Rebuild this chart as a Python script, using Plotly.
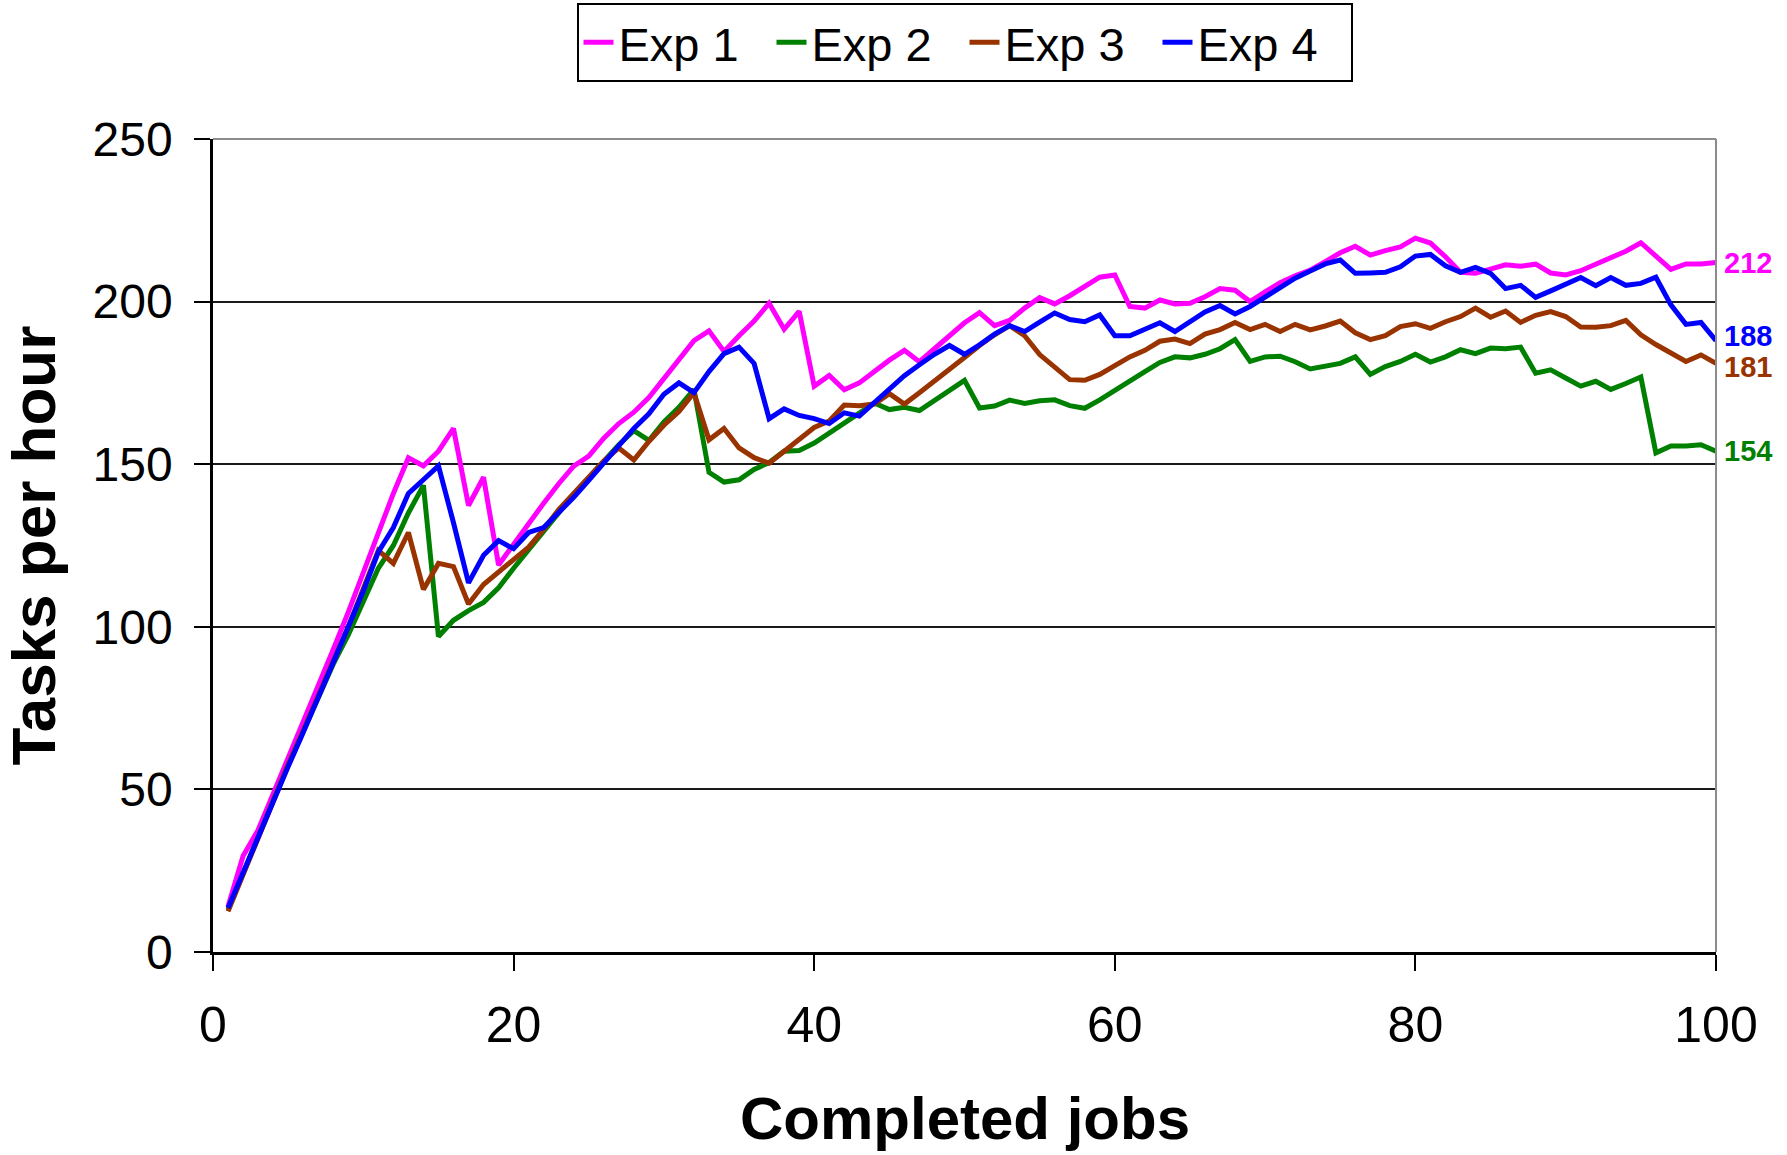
import plotly.graph_objects as go

# Completed jobs (x axis)
jobs = list(range(1, 101))

# Throughput (tasks per hour) after each completed job
exp1 = [14, 29.5, 37.5, 48.5, 59.5, 70.5, 81.5, 93, 104.5, 117,
        129, 141, 152, 149.5, 154, 161, 137.3, 146, 119, 125.5,
        131.5, 138, 144, 149.4, 152.5, 158, 162.5, 166, 170.5, 176.5,
        182, 188, 191, 184.7, 189.5, 194, 199.5, 191.5, 197, 174,
        177.3, 172.9, 175, 178.5, 182, 185, 181.5, 185.5, 189.5, 193.5,
        196.6, 192.6, 194.2, 198, 201.2, 199.3, 201.8, 204.5, 207.5, 208.2,
        198.5, 198, 200.5, 199.3, 199.5, 201.5, 204, 203.5, 200, 203,
        205.8, 207.9, 209.7, 212.3, 215, 217, 214.3, 215.7, 216.8, 219.5,
        218, 213.8, 209, 208.7, 210, 211.3, 210.9, 211.5, 208.8, 208.2,
        209.5, 211.5, 213.8, 215.5, 218.1, 214, 209.9, 211.6, 211.6, 212]

exp2 = [13, 24.5, 35.5, 46.5, 57.5, 68, 78.5, 88.5, 97.5, 108,
        118, 125, 135, 143.5, 97, 102, 105, 107.5, 112, 118,
        123.5, 129, 135, 140.8, 145.8, 151, 156, 160.3, 157.3, 163,
        167.5, 173, 147.5, 144.5, 145.2, 148.4, 150.5, 154, 154.2, 156.5,
        159.5, 162.8, 165.8, 168.8, 166.8, 167.5, 166.5, 169.5, 172.7, 175.8,
        167.3, 167.9, 169.7, 168.7, 169.5, 169.8, 168, 167.2, 169.8, 172.8,
        175.7, 178.5, 181.3, 183, 182.7, 183.8, 185.5, 188.3, 181.6, 183,
        183.2, 181.5, 179.3, 180, 181, 183, 177.6, 180, 181.6, 183.8,
        181.4, 183, 185.2, 184, 185.7, 185.5, 186, 178, 179, 176.5,
        174, 175.5, 173, 174.8, 176.8, 153.5, 155.6, 155.6, 156, 154]

exp3 = [12.5, 24, 35, 46.5, 57.5, 68, 79, 89.5, 100, 111.5,
        123.5, 119.5, 129, 111.5, 119.5, 118.5, 107, 113, 117, 120.5,
        124.5, 130, 136, 141, 145.8, 151, 155, 151.3, 157, 162,
        166.2, 172, 157.5, 161, 155, 152, 150.3, 154, 157.5, 161.3,
        163.3, 168.2, 168, 168.5, 171.7, 168.5, 172, 175.5, 179.3, 182.8,
        186.5, 189.8, 192.6, 189.5, 183.7, 180, 176, 175.8, 177.6, 180.3,
        183, 185, 187.8, 188.5, 187.1, 190, 191.4, 193.6, 191.4, 193,
        190.8, 193, 191.3, 192.5, 194, 190.4, 188.3, 189.5, 192.3, 193.2,
        191.8, 193.8, 195.4, 198, 195.2, 197.1, 193.6, 195.8, 196.9, 195.4,
        192.2, 192.1, 192.6, 194.2, 189.8, 186.8, 184, 181.6, 183.6, 181]

exp4 = [13.5, 24.5, 35.5, 46.5, 57, 67.5, 78, 89, 100, 111,
        123, 130.5, 141, 145, 149.5, 132, 113.5, 122, 126.5, 124,
        129, 130.5, 135, 139.8, 145, 150.5, 156, 161, 165.5, 171.5,
        175, 172, 178.5, 184, 186, 181, 164, 167, 165, 164,
        162.5, 165.8, 164.8, 169, 173, 177.2, 180.6, 183.8, 186.5, 183.8,
        186.7, 190, 192.6, 190.8, 193.7, 196.5, 194.5, 193.8, 195.9, 189.5,
        189.5, 191.3, 193.5, 190.8, 193.8, 196.8, 198.8, 196.2, 198.5, 201.5,
        204.4, 207.2, 209.4, 211.6, 212.8, 208.7, 208.8, 209, 210.7, 214,
        214.5, 211, 209, 210.5, 208.7, 204, 205, 201.3, 203.3, 205.4,
        207.4, 204.9, 207.4, 205, 205.6, 207.5, 199, 193, 193.6, 188]

series_names = ["Exp 1", "Exp 2", "Exp 3", "Exp 4"]
series_values = [exp1, exp2, exp3, exp4]
series_colors = ["#FF00FF", "#008000", "#993300", "#0000FF"]
# small vertical nudges so the end labels of close series do not collide
label_shift = [0, 0, -4, 5]

y_ticks = [0, 50, 100, 150, 200, 250]
x_ticks = [0, 20, 40, 60, 80, 100]

FONT = "Arial, Liberation Sans, sans-serif"

fig = go.Figure()
for name, vals, col in zip(series_names, series_values, series_colors):
    fig.add_trace(go.Scatter(x=jobs, y=vals, name=name, mode="lines",
                             line=dict(color=col, width=5)))

# Final value labels to the right of the plot
for vals, col, dy in zip(series_values, series_colors, label_shift):
    fig.add_annotation(x=jobs[-1], y=vals[-1], xref="x", yref="y",
                       text="<b>%d</b>" % round(vals[-1]), showarrow=False,
                       xanchor="left", yanchor="middle", xshift=6, yshift=dy,
                       font=dict(family=FONT, size=29, color=col))

# Axis titles
fig.add_annotation(x=-0.1197, y=0.5, xref="paper", yref="paper",
                   text="<b>Tasks per hour</b>", textangle=-90, showarrow=False,
                   xanchor="center", yanchor="middle",
                   font=dict(family=FONT, size=62, color="black"))
fig.add_annotation(x=0.5, y=-0.2054, xref="paper", yref="paper",
                   text="<b>Completed jobs</b>", showarrow=False,
                   xanchor="center", yanchor="middle",
                   font=dict(family=FONT, size=60, color="black"))

# Grey frame on the top and right edges of the plot area
fig.add_shape(type="line", xref="paper", yref="paper", x0=0, x1=1, y0=1, y1=1,
              line=dict(color="#8c8c8c", width=2), layer="above")
fig.add_shape(type="line", xref="paper", yref="paper", x0=1, x1=1, y0=0, y1=1,
              line=dict(color="#8c8c8c", width=2), layer="above")

fig.update_layout(
    width=1787, height=1155,
    margin=dict(l=213, r=71, t=139, b=203, autoexpand=False),
    paper_bgcolor="white", plot_bgcolor="white",
    font=dict(family=FONT, color="black"),
    showlegend=True,
    legend=dict(orientation="h", x=0.5, xanchor="center", y=1.167, yanchor="top",
                bordercolor="black", borderwidth=2, bgcolor="white",
                font=dict(family=FONT, size=47, color="black"),
                itemwidth=30, tracegroupgap=0,
                entrywidth=148, entrywidthmode="pixels"),
    xaxis=dict(range=[0, 100], tickvals=x_ticks, ticks="outside", ticklen=16,
               tickwidth=1.5, tickcolor="black", showgrid=False, zeroline=False,
               showline=True, linecolor="black", linewidth=2.5,
               tickfont=dict(family=FONT, size=50, color="black"),
               ticklabelstandoff=11),
    yaxis=dict(range=[0, 250], tickvals=y_ticks, ticks="outside", ticklen=16,
               tickwidth=1.5, tickcolor="black", showgrid=True, gridcolor="#1a1a1a",
               gridwidth=2, zeroline=False, showline=True, linecolor="black",
               linewidth=2.5, tickfont=dict(family=FONT, size=48, color="black"),
               ticklabelstandoff=12),
)

fig.write_html("out.html")
